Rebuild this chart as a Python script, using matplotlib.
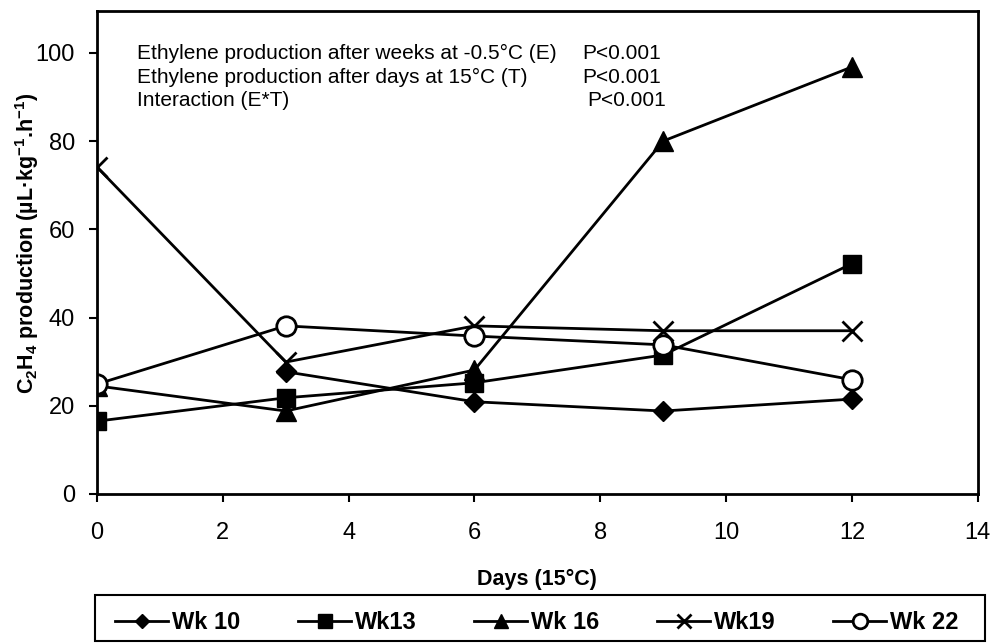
import numpy as np
import matplotlib.pyplot as plt
from matplotlib.patches import Rectangle

plt.rcParams['font.family'] = ['Liberation Sans', 'DejaVu Sans']
plt.rcParams['mathtext.fontset'] = 'custom'
plt.rcParams['mathtext.rm'] = 'Liberation Sans'
plt.rcParams['mathtext.bf'] = 'Liberation Sans:bold'

# data
dias = [0, 3, 6, 9, 12]
wk10 = [np.nan, 27.7, 20.9, 18.8, 21.5]
wk13 = [16.5, 21.8, 25.2, 31.5, 52.2]
wk16 = [24.5, 18.8, 28.1, 80.0, 96.8]
wk19 = [74.1, 29.9, 38.1, 37.0, 37.0]
wk22 = [24.9, 38.1, 35.8, 33.8, 25.9]

etiquetas = ['Wk 10', 'Wk13', 'Wk 16', 'Wk19', 'Wk 22']
textos = ['Ethylene production after weeks at -0.5°C (E)',
          'Ethylene production after days at 15°C (T)',
          'Interaction (E*T)']
valores_p = ['P<0.001', 'P<0.001', 'P<0.001']

fig = plt.figure(figsize=(9.94, 6.44), dpi=100)
ax = fig.add_axes([0.0976, 0.233, 0.886, 0.750])

ax.plot(dias, wk10, marker='D', markersize=10, color='black', lw=2, label=etiquetas[0])
ax.plot(dias, wk13, marker='s', markersize=13, color='black', lw=2, label=etiquetas[1])
ax.plot(dias, wk16, marker='^', markersize=14, color='black', lw=2, label=etiquetas[2])
ax.plot(dias, wk19, marker='x', color='black', lw=2, markersize=14, mew=2, label=etiquetas[3])
ax.plot(dias, wk22, marker='o', color='black', lw=2, markersize=14, mew=2,
        markerfacecolor='white', label=etiquetas[4])

ax.set_xlim(0, 14)
ax.set_ylim(0, 109.5)
ax.set_xticks(range(0, 15, 2))
ax.set_yticks(range(0, 101, 20))
ax.tick_params(labelsize=17, width=1.5, length=6, direction='out')
ax.tick_params(axis='x', pad=14)
ax.tick_params(axis='y', pad=10)
for s in ax.spines.values():
    s.set_linewidth(2)

ax.set_xlabel('Days (15°C)', fontsize=15.5, fontweight='bold', labelpad=18)
ax.set_ylabel(r'C$_\mathbf{2}$H$_\mathbf{4}$ production (µL·kg$^{\mathbf{-1}}$.h$^{\mathbf{-1}}$)',
              fontsize=15.5, fontweight='bold')
ax.yaxis.set_label_coords(-0.064, 0.52)

for i in range(3):
    y = 99.8 - i * 5.3
    ax.text(0.64, y, textos[i], fontsize=15, va='center')
    ax.text(7.71 if i < 2 else 7.80, y, valores_p[i], fontsize=15, va='center')

# legend with a wider box drawn by hand, like the original
leg = fig.legend(loc='center', bbox_to_anchor=(0.54, 0.0335), ncol=5,
                 prop={'size': 17, 'weight': 'bold'}, frameon=False,
                 columnspacing=2.45, handlelength=2.25,
                 handletextpad=0.15, markerscale=0.75)
fig.patches.append(Rectangle((0.0956, 0.004), 0.895, 0.072, transform=fig.transFigure,
                             facecolor='none', edgecolor='black', lw=1.5))

plt.savefig('out.png', dpi=100)
